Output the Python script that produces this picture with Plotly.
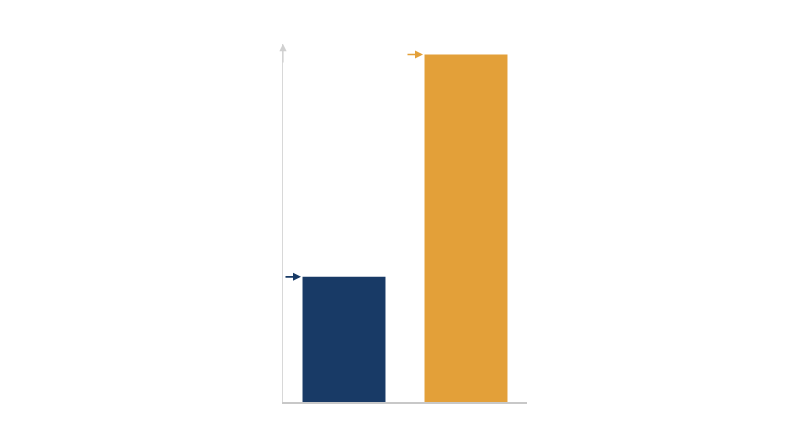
import plotly.graph_objects as go

# --- Data ---
categories = ["A", "B"]
values = [36, 100]
bar_colors = ["#183a66", "#e3a039"]

# --- Figure ---
fig = go.Figure()
fig.add_trace(
    go.Bar(
        x=categories,
        y=values,
        width=0.68,
        marker=dict(color=bar_colors, line=dict(width=0)),
        hoverinfo="skip",
    )
)

# small arrows pointing at the top of each bar
for cat, val, col in zip(categories, values, bar_colors):
    fig.add_annotation(
        x=cat, y=val, xref="x", yref="y",
        xshift=-43,
        ax=-17, ay=0, axref="pixel", ayref="pixel",
        showarrow=True, arrowhead=2, arrowsize=1, arrowwidth=1.6,
        arrowcolor=col, text="",
    )

# arrow tip on the y axis
fig.add_annotation(
    x=0, y=1.0, xref="paper", yref="paper",
    ax=0, ay=20, showarrow=True, arrowhead=2, arrowsize=1.2,
    arrowwidth=1.2, arrowcolor="#d0d0d0", text="",
)

# page has an 8px body margin, so the margins are offset by that
fig.update_layout(
    width=800, height=447,
    margin=dict(l=275, r=281, t=36, b=53),
    plot_bgcolor="white", paper_bgcolor="white",
    showlegend=False,
    bargap=0.32,
    xaxis=dict(
        range=[-0.5, 1.5], showgrid=False, zeroline=False,
        showticklabels=False, ticks="",
        showline=True, linecolor="#c8c8c8", linewidth=2,
    ),
    yaxis=dict(
        range=[0, 103], showgrid=False, zeroline=False,
        showticklabels=False, ticks="",
        showline=True, linecolor="#d8d8d8", linewidth=1.2,
    ),
)

fig.write_html("out.html")
